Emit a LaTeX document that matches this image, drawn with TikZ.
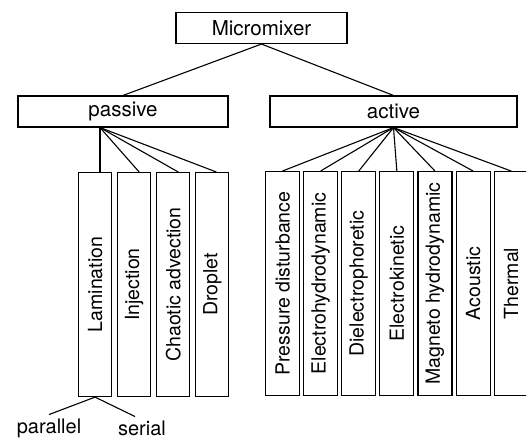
\documentclass[tikz,border=0pt]{standalone}
\usepackage{fontspec}
\setmainfont{TeX Gyre Heros}
\usetikzlibrary{positioning}

\begin{document}
\begin{tikzpicture}[x=1pt,y=-1pt,line width=1.1pt,
    box/.style={draw,inner sep=0pt,minimum height=31pt,font=\fontsize{20.5}{24}\selectfont},
    leaf/.style={draw,inner sep=0pt,minimum width=33pt,minimum height=224pt,font=\fontsize{19.5}{22}\selectfont},
    word/.style={font=\fontsize{20}{24}\selectfont,anchor=base}]
  \useasboundingbox (0,0) rectangle (527,439);
  \clip (0,0) rectangle (526,439);

  \node[box, minimum width=171pt] (micro)   at (261.5,28)  {Micromixer};
  \node[box, minimum width=210pt] (passive) at (123,111.5) {passive};
  \node[box, minimum width=247pt] (active)  at (393.5,111.5) {active};

  % passive branch
  \node[leaf, anchor=north west] (lam) at (78,172) {\rotatebox{90}{Lamination}};
  \node[leaf] (inj)   [right=5pt of lam] {\rotatebox{90}{Injection}};
  \node[leaf] (chaos) [right=5pt of inj] {\rotatebox{90}{Chaotic advection}};
  \node[leaf] (drop)  [right=5pt of chaos] {\rotatebox{90}{Droplet}};

  % active branch
  \node[leaf, minimum width=34pt, anchor=north west] (press) at (265,171) {\rotatebox{90}{Pressure disturbance}};
  \node[leaf, minimum width=34pt] (ehd)   [right=3pt of press] {\rotatebox{90}{Electrohydrodynamic}};
  \node[leaf, minimum width=34pt] (dep)   [right=3pt of ehd]   {\rotatebox{90}{Dielectrophoretic}};
  \node[leaf, minimum width=34pt] (ek)    [right=3pt of dep]   {\rotatebox{90}{Electrokinetic}};
  \node[leaf, minimum width=34pt] (mhd)   [right=3pt of ek]    {\rotatebox{90}{Magneto hydrodynamic}};
  \node[leaf, minimum width=34pt] (acou)  [right=3pt of mhd]   {\rotatebox{90}{Acoustic}};
  \node[leaf, minimum width=34pt] (therm) [right=3pt of acou]  {\rotatebox{90}{Thermal}};

  \node[word] (par) at (49,433)  {parallel};
  \node[word] (ser) at (142,435) {serial};

  \coordinate (pfan) at ([xshift=-23pt]passive.south);

  \path (micro.south) edge (passive.north)
        (micro.south) edge (active.north)

        (pfan) edge (pfan |- lam.north)
        (pfan) edge ([xshift=5pt]inj.north)
        (pfan) edge ([xshift=5pt]chaos.north)
        (pfan) edge ([xshift=4pt]drop.north)

        (active.south) edge (press.north)
        (active.south) edge (ehd.north)
        (active.south) edge (dep.north)
        (active.south) edge (ek.north)
        (active.south) edge (mhd.north)
        (active.south) edge (acou.north)
        (active.south) edge (therm.north)

        (lam.south) edge (par.north)
        (lam.south) edge ([xshift=-7pt]ser.north);
\end{tikzpicture}
\end{document}
